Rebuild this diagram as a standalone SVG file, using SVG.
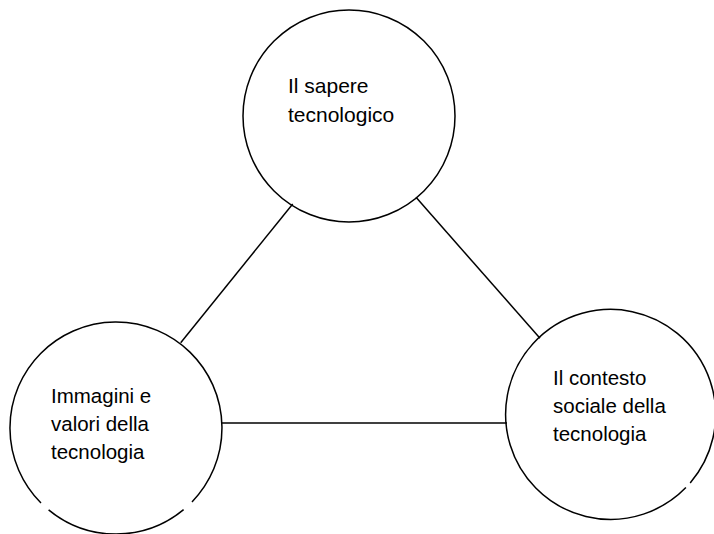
<svg xmlns="http://www.w3.org/2000/svg" width="714" height="534" viewBox="0 0 714 534">
<style>
.shape{fill:none;stroke:#000;stroke-width:1.5}
.edge{fill:none;stroke:#000;stroke-width:1.5}
.label{font-family:"Liberation Sans",Arial,sans-serif;font-size:20.5px;fill:#000}
.big{font-size:21px}
</style>
<rect width="714" height="534" fill="#fff"/>
<g id="connectors">
<line class="edge" x1="292.7" y1="204" x2="180.7" y2="342.7"/>
<line class="edge" x1="416" y1="197.3" x2="540" y2="338.3"/>
<line class="edge" x1="222" y1="423" x2="507" y2="423"/>
</g>
<g id="node-sapere">
<circle class="shape" cx="349" cy="116" r="106"/>
<text class="label big" x="288" y="93">Il sapere</text>
<text class="label big" x="288" y="121.5">tecnologico</text>
</g>
<g id="node-immagini">
<path class="shape" d="M41,503 A106,106 0 1 1 192,501.9 M183.6,509.7 A106,106 0 0 1 48.6,509.8"/>
<text class="label" x="51" y="402.5">Immagini e</text>
<text class="label" x="51" y="430.5">valori della</text>
<text class="label" x="51" y="458.5">tecnologia</text>
</g>
<g id="node-contesto">
<path class="shape" d="M685.9,487.6 A105,105 0 1 1 690.2,482.9"/>
<text class="label" x="553" y="384.5">Il contesto</text>
<text class="label" x="553" y="412.5">sociale della</text>
<text class="label" x="553" y="440.5">tecnologia</text>
</g>
</svg>
